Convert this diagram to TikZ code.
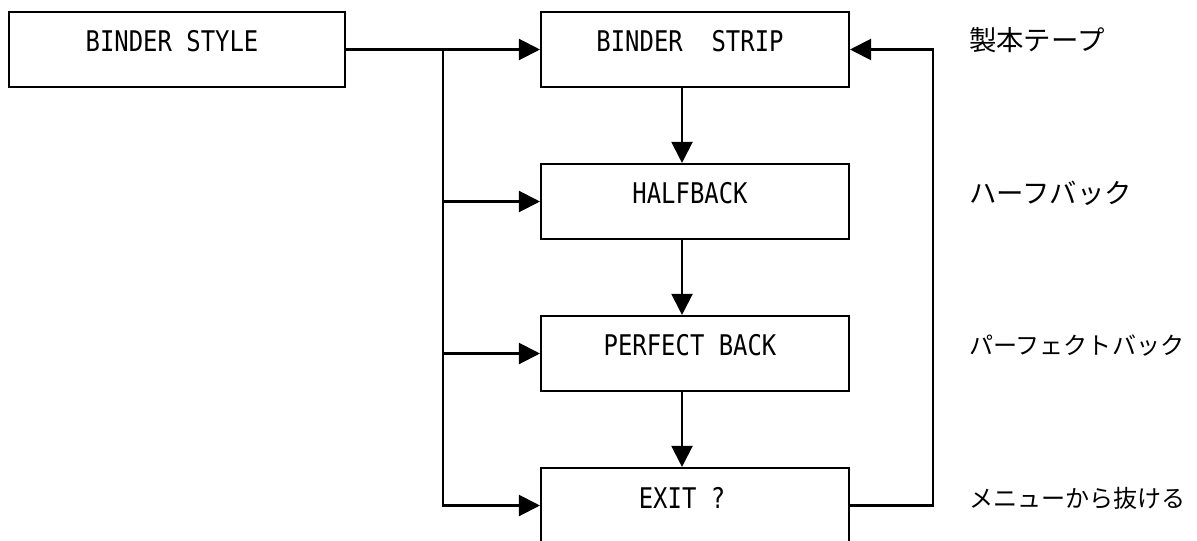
\documentclass[tikz,border=0pt]{standalone}
\usepackage{fontspec}
\setmainfont{DejaVu Sans Mono}[FakeStretch=0.84]
\newfontfamily\jp{Noto Sans CJK JP}
\usetikzlibrary{arrows.meta}

\begin{document}
\begin{tikzpicture}[x=0.02cm,y=-0.02cm,line width=1.2pt,
box/.style={draw,minimum height=1.5cm,minimum width=6.16cm,inner sep=0pt},
arr/.style={-{Triangle[length=0.42cm,width=0.42cm]}},
txt/.style={font=\fontsize{16.2}{18}\selectfont,yshift=0.16cm,xshift=-0.1cm},
jpbig/.style={anchor=west,inner sep=0pt,font=\jp\fontsize{15.6}{18}\selectfont},
jpsmall/.style={anchor=west,inner sep=0pt,font=\jp\fontsize{13.7}{16}\selectfont}]
\useasboundingbox (0,0) rectangle (1197,541);
% left box and the four menu boxes
\node[box,minimum width=6.72cm,label={[txt,name=style-t]center:BINDER STYLE}] (style) at (177,49.5) {};
\node[box,label={[txt,name=strip-t]center:BINDER\ \ STRIP}] (strip) at (695,49.5) {};
\node[box,label={[txt,name=half-t]center:HALFBACK}] (half) at (695,201.5) {};
\node[box,label={[txt,name=perf-t]center:PERFECT BACK}] (perf) at (695,353.5) {};
\node[box,label={[txt,name=exit-t,xshift=-0.16cm]center:EXIT ?}] (exit) at (695,505.5) {};
% japanese notes
\node[jpbig] (strip-jp) at (968,40) {製本テープ};
\node[jpbig] (half-jp) at (968,193) {ハーフバック};
\node[jpsmall] (perf-jp) at (968,346) {パーフェクトバック};
\node[jpsmall] (exit-jp) at (968,498) {メニューから抜ける};
% connectors
\coordinate (bus) at (443,49.5);
\coordinate (ret) at (933,49.5);
\draw[arr] (style) -- (strip);
\draw[arr] (bus) |- (half);
\draw[arr] (bus) |- (perf);
\draw[arr] (bus) |- (exit);
\draw[arr] (exit.east) -| (ret) -- (strip.east);
\draw[arr] ([xshift=-0.26cm]strip.south) -- ([xshift=-0.26cm]half.north);
\draw[arr] ([xshift=-0.26cm]half.south) -- ([xshift=-0.26cm]perf.north);
\draw[arr] ([xshift=-0.26cm]perf.south) -- ([xshift=-0.26cm]exit.north);
\end{tikzpicture}
\end{document}
